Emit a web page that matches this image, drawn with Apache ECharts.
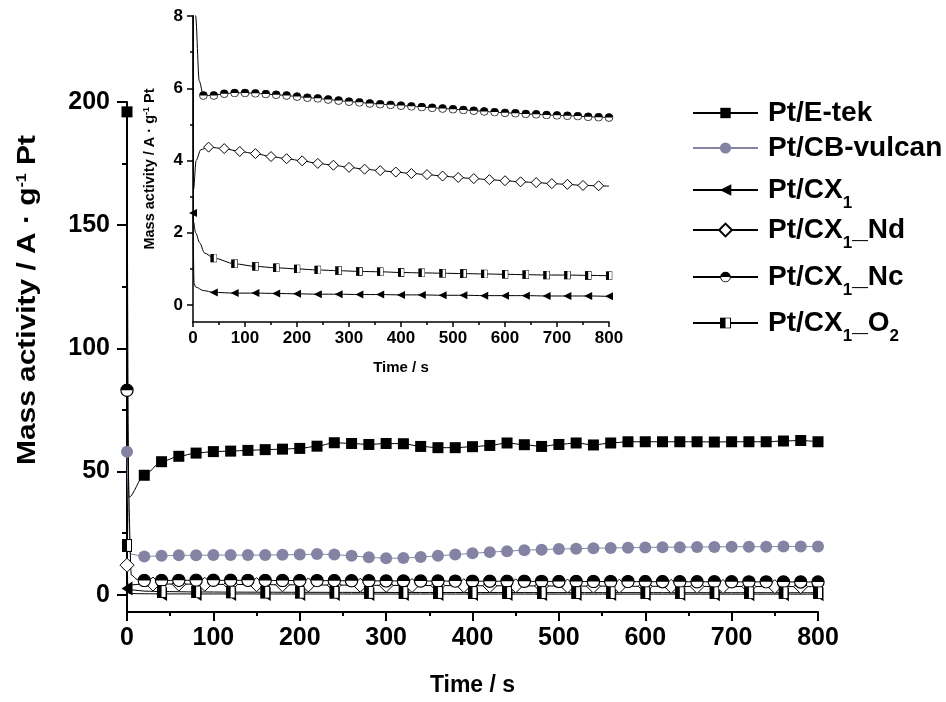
<!DOCTYPE html>
<html>
<head>
<meta charset="utf-8">
<script src="https://cdn.jsdelivr.net/npm/echarts@6/dist/echarts.min.js"></script>
<style>
  html, body { margin: 0; padding: 0; background: #fff; }
  #chart { width: 946px; height: 702px; }
</style>
</head>
<body>
<div id="chart"></div>
<script>
// ---- sampling times (s) of the plotted markers ----
const T20 = [20,40,60,80,100,120,140,160,180,200,220,240,260,280,300,320,340,360,380,400,
             420,440,460,480,500,520,540,560,580,600,620,640,660,680,700,720,740,760,780,800];
const T30 = [30,60,90,120,150,180,210,240,270,300,330,360,390,420,450,480,510,540,570,600,
             630,660,690,720,750,780];
const T40 = [40,80,120,160,200,240,280,320,360,400,440,480,520,560,600,640,680,720,760,800];

// ---- series names ----
const NAMES = ['Pt/E-tek', 'Pt/CB-vulcan', 'Pt/CX1', 'Pt/CX1_Nd', 'Pt/CX1_Nc', 'Pt/CX1_O2'];

// ---- mass activity (A g^-1 Pt) ----
// Pt/E-tek
const etekStartT = [0, 2];
const etekStartV = [196, 39.5];
const etekV = [48.5,54.0,56.2,57.5,58.1,58.3,58.6,58.9,59.1,59.4,60.3,61.7,61.4,61.0,61.4,61.3,60.2,59.7,59.7,60.1,
               60.6,61.6,60.9,60.2,61.0,61.6,60.8,61.6,62.1,62.1,62.1,62.1,62.1,62.0,62.1,62.1,62.1,62.4,62.6,62.1];
// Pt/CB-vulcan
const cbStartT = [0, 4];
const cbStartV = [58, 16.5];
const cbV = [15.5,15.8,16.0,16.0,16.1,16.1,16.1,16.1,16.2,16.3,16.5,16.3,15.8,15.2,14.8,14.9,15.3,15.8,16.3,16.8,
             17.3,17.7,18.1,18.3,18.6,18.7,18.9,19.0,19.1,19.2,19.3,19.3,19.4,19.4,19.5,19.5,19.5,19.6,19.6,19.6];
// Pt/CX1
const cx1StartT = [0, 2, 5, 20];
const cx1StartV = [2.55, 0.6, 0.5, 0.4];
const cx1V = [0.35,0.33,0.33,0.32,0.31,0.30,0.30,0.29,0.29,0.28,0.28,0.27,0.27,0.26,0.26,0.26,0.25,0.25,0.25,0.24];
// Pt/CX1_Nd
const ndStartT = [0, 1, 6, 15];
const ndStartV = [12, 3.2, 4.0, 4.3];
const ndV = [4.37,4.33,4.25,4.19,4.11,4.05,3.99,3.92,3.87,3.81,3.76,3.72,3.68,3.64,3.61,3.57,3.53,3.50,3.47,3.44,
             3.41,3.39,3.36,3.34,3.31,3.30];
const ndEndT = [800];
const ndEndV = [3.29];
// Pt/CX1_Nc
const ncStartT = [0, 5, 12];
const ncStartV = [83, 8.0, 6.2];
const ncV = [5.80,5.80,5.85,5.87,5.87,5.86,5.84,5.82,5.80,5.77,5.74,5.72,5.69,5.66,5.63,5.61,5.58,5.56,5.54,5.52,
             5.50,5.48,5.46,5.44,5.42,5.40,5.38,5.36,5.34,5.32,5.31,5.29,5.28,5.26,5.25,5.24,5.23,5.21,5.20,5.19];
// Pt/CX1_O2
const o2StartT = [0, 1, 5, 13, 22];
const o2StartV = [20, 2.3, 2.0, 1.72, 1.44];
const o2V = [1.30,1.14,1.07,1.03,1.00,0.97,0.95,0.93,0.92,0.90,0.89,0.88,0.87,0.86,0.85,0.84,0.83,0.83,0.82,0.81];

// ---- axis ticks ----
const mainYTicks = [0,50,100,150,200];
const mainYMinor = [25,75,125,175];
const insetYTicks = [0,2,4,6,8];
const insetYMinor = [1,3,5,7];

const FONT = '"Liberation Sans", Arial, Helvetica, sans-serif';

// two-tone marker glyphs
function svgSymbol(svg) {
  return 'image://data:image/svg+xml;charset=utf-8,' + encodeURIComponent(svg);
}
const HALF_CIRCLE = svgSymbol('<svg xmlns="http://www.w3.org/2000/svg" width="24" height="24" viewBox="0 0 24 24">' +
  '<circle cx="12" cy="12" r="10.5" fill="#fff" stroke="#000" stroke-width="2"/>' +
  '<path d="M1.5 12 A10.5 10.5 0 0 1 22.5 12 Z" fill="#000"/></svg>');
const HALF_SQUARE = svgSymbol('<svg xmlns="http://www.w3.org/2000/svg" width="20" height="24" viewBox="0 0 20 24">' +
  '<rect x="1" y="1" width="18" height="22" fill="#fff" stroke="#000" stroke-width="2"/>' +
  '<rect x="1" y="1" width="9" height="22" fill="#000"/></svg>');
const LEFT_TRI = 'path://M0,6 L12,0 L12,12 Z';

// first start point keeps its marker, the rest of the start-up transient is a bare line
function buildData(startT, startV, t, v, endT, endV) {
  const out = [];
  startT.forEach((x, i) => out.push(i === 0 ? { value: [x, startV[i]] } : { value: [x, startV[i]], symbol: 'none' }));
  t.forEach((x, i) => out.push([x, v[i]]));
  if (endT) endT.forEach((x, i) => out.push({ value: [x, endV[i]], symbol: 'none' }));
  return out;
}

// legend icon markers are drawn at 0.8 x itemHeight
const STYLE = {
  'Pt/E-tek':     { symbol: 'rect',      main: 11,       inset: 7,      legendH: 13,   fill: '#000',    line: '#000' },
  'Pt/CB-vulcan': { symbol: 'circle',    main: 12,       inset: 7,      legendH: 14,   fill: '#8583a3', line: '#8583a3' },
  'Pt/CX1':       { symbol: LEFT_TRI,    main: [11, 14], inset: 8,      legendH: 14.5, fill: '#000',    line: '#000' },
  'Pt/CX1_Nd':    { symbol: 'diamond',   main: 14,       inset: 10,     legendH: 16,   fill: '#fff',    line: '#000', border: 1 },
  'Pt/CX1_Nc':    { symbol: HALF_CIRCLE, main: 14,       inset: 9,      legendH: 14,   fill: '#000',    line: '#000' },
  'Pt/CX1_O2':    { symbol: HALF_SQUARE, main: [10, 13], inset: [7, 9], legendH: 14,   fill: '#000',    line: '#000' }
};

const DATA = {
  'Pt/E-tek':     buildData(etekStartT, etekStartV, T20, etekV),
  'Pt/CB-vulcan': buildData(cbStartT, cbStartV, T20, cbV),
  'Pt/CX1':       buildData(cx1StartT, cx1StartV, T40, cx1V),
  'Pt/CX1_Nd':    buildData(ndStartT, ndStartV, T30, ndV, ndEndT, ndEndV),
  'Pt/CX1_Nc':    buildData(ncStartT, ncStartV, T20, ncV),
  'Pt/CX1_O2':    buildData(o2StartT, o2StartV, T40, o2V)
};

function makeSeries(name, inset) {
  const s = STYLE[name];
  return {
    name: name,
    type: 'line',
    xAxisIndex: inset ? 1 : 0,
    yAxisIndex: inset ? 2 : 0,
    data: DATA[name],
    symbol: s.symbol,
    symbolSize: inset ? s.inset : s.main,
    showSymbol: true,
    smooth: 0.3,
    smoothMonotone: 'x',
    clip: true,
    lineStyle: { color: s.line, width: 1 },
    itemStyle: { color: s.fill, borderColor: '#000', borderWidth: s.border || 0 },
    emphasis: { disabled: true },
    z: 3
  };
}

// legend entries with subscripts
const LABELS = {
  'Pt/E-tek': '{b|Pt/E-tek}',
  'Pt/CB-vulcan': '{b|Pt/CB-vulcan}',
  'Pt/CX1': '{b|Pt/CX}{sub|1}',
  'Pt/CX1_Nd': '{b|Pt/CX}{sub|1}{b|_Nd}',
  'Pt/CX1_Nc': '{b|Pt/CX}{sub|1}{b|_Nc}',
  'Pt/CX1_O2': '{b|Pt/CX}{sub|1}{b|_O}{sub|2}'
};
// vertical position of each legend row
const LEGEND_ROW_Y = [121, 156, 198, 238, 285, 331];
const LEGEND_BOX = 44;

const axisText = (size) => ({ fontFamily: FONT, fontWeight: 'bold', fontSize: size, color: '#000' });

const legends = NAMES.map((n, i) => ({
  orient: 'vertical',
  left: 692,
  top: LEGEND_ROW_Y[i] - LEGEND_BOX / 2,
  padding: 0,
  itemWidth: 65,
  itemHeight: STYLE[n].legendH,
  selectedMode: false,
  data: [n],
  formatter: (name) => LABELS[name],
  textStyle: {
    fontFamily: FONT, fontWeight: 'bold', fontSize: 27, color: '#000',
    padding: [0, 0, 0, 5],
    rich: {
      b: { fontFamily: FONT, fontWeight: 'bold', fontSize: 28, color: '#000', lineHeight: LEGEND_BOX },
      sub: { fontFamily: FONT, fontWeight: 'bold', fontSize: 17, color: '#000', lineHeight: 17, verticalAlign: 'bottom' }
    }
  }
}));

const option = {
  animation: false,
  backgroundColor: '#fff',
  textStyle: { fontFamily: FONT },
  grid: [
    { left: 127, right: 128, top: 102, bottom: 87 },
    { left: 193, right: 337, top: 16, bottom: 380 }
  ],
  legend: legends,
  graphic: [
    {
      // main y-axis title
      type: 'text',
      x: 28, y: 300,
      rotation: Math.PI / 2,
      scaleX: 1.15,
      style: {
        text: 'Mass activity / A · g{sup|-1} Pt',
        fontFamily: FONT, fontWeight: 'bold', fontSize: 26, fill: '#000',
        align: 'center', verticalAlign: 'middle',
        rich: {
          sup: { fontFamily: FONT, fontWeight: 'bold', fontSize: 14, fill: '#000', verticalAlign: 'top', lineHeight: 14 }
        }
      }
    }
  ],
  xAxis: [
    {
      type: 'value', gridIndex: 0, min: 0, max: 800, interval: 100,
      name: 'Time / s', nameLocation: 'middle', nameGap: 62,
      nameTextStyle: axisText(23),
      axisLine: { onZero: false, lineStyle: { color: '#000', width: 2 } },
      axisTick: { inside: false, length: 9, lineStyle: { color: '#000', width: 2 } },
      minorTick: { show: true, splitNumber: 2, length: 4, lineStyle: { color: '#000', width: 2 } },
      axisLabel: Object.assign({ margin: 14 }, axisText(25)),
      splitLine: { show: false }
    },
    {
      type: 'value', gridIndex: 1, min: 0, max: 800, interval: 100,
      name: 'Time / s', nameLocation: 'middle', nameGap: 38,
      nameTextStyle: axisText(15),
      axisLine: { onZero: false, lineStyle: { color: '#000', width: 1.5 } },
      axisTick: { inside: false, length: 5, lineStyle: { color: '#000', width: 1.5 } },
      minorTick: { show: true, splitNumber: 2, length: 3, lineStyle: { color: '#000', width: 1.5 } },
      axisLabel: Object.assign({ margin: 8 }, axisText(17)),
      splitLine: { show: false }
    }
  ],
  yAxis: [
    {
      type: 'value', gridIndex: 0, min: -7, max: 200, position: 'left',
      axisLine: { onZero: false, lineStyle: { color: '#000', width: 2 } },
      axisTick: { inside: false, length: 10, customValues: mainYTicks, lineStyle: { color: '#000', width: 2 } },
      axisLabel: Object.assign({ margin: 17, customValues: mainYTicks }, axisText(25)),
      splitLine: { show: false }
    },
    {
      type: 'value', gridIndex: 0, min: -7, max: 200, position: 'left',
      axisLine: { show: false, onZero: false },
      axisTick: { inside: false, length: 5, customValues: mainYMinor, lineStyle: { color: '#000', width: 2 } },
      axisLabel: { show: false },
      splitLine: { show: false }
    },
    {
      type: 'value', gridIndex: 1, min: -0.47, max: 8, position: 'left',
      name: 'Mass activity / A · g{sup|-1} Pt', nameLocation: 'middle', nameGap: 36,
      nameTextStyle: Object.assign({
        rich: { sup: { fontFamily: FONT, fontWeight: 'bold', fontSize: 9, color: '#000', verticalAlign: 'top', lineHeight: 9 } }
      }, axisText(14.5)),
      axisLine: { onZero: false, lineStyle: { color: '#000', width: 1.5 } },
      axisTick: { inside: false, length: 6, customValues: insetYTicks, lineStyle: { color: '#000', width: 1.5 } },
      axisLabel: Object.assign({ margin: 10, customValues: insetYTicks }, axisText(17)),
      splitLine: { show: false }
    },
    {
      type: 'value', gridIndex: 1, min: -0.47, max: 8, position: 'left',
      axisLine: { show: false, onZero: false },
      axisTick: { inside: false, length: 3, customValues: insetYMinor, lineStyle: { color: '#000', width: 1.5 } },
      axisLabel: { show: false },
      splitLine: { show: false }
    }
  ],
  series: NAMES.map(n => makeSeries(n, false)).concat(
    ['Pt/CX1', 'Pt/CX1_Nd', 'Pt/CX1_Nc', 'Pt/CX1_O2'].map(n => makeSeries(n, true))
  )
};

const chart = echarts.init(document.getElementById('chart'), null, { renderer: 'canvas' });
chart.setOption(option);
</script>
</body>
</html>
